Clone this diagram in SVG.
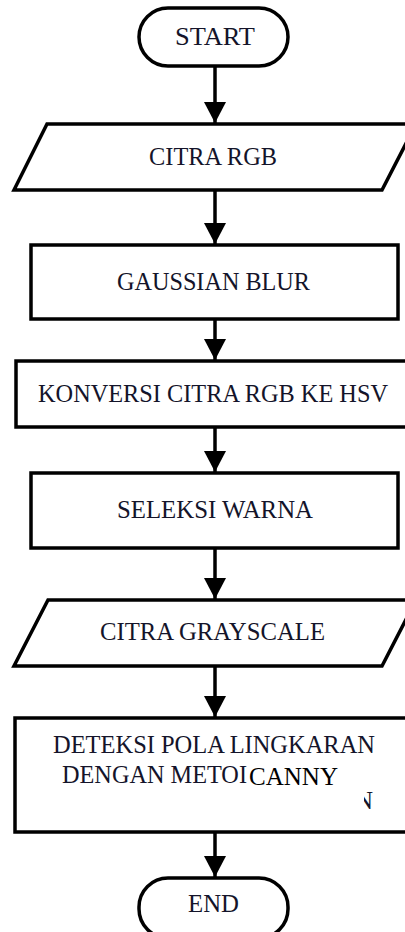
<svg xmlns="http://www.w3.org/2000/svg" width="405" height="932" viewBox="0 0 405 932">
  <style>
    .shape { fill: #ffffff; stroke: #000000; stroke-width: 3.5; }
    .lbl { font-family: "Liberation Serif", "Times New Roman", serif; font-size: 25px; fill: #14142a; }
    .conn { stroke: #000000; stroke-width: 3.5; fill: none; }
  </style>
  <defs>
    <marker id="arrow" markerUnits="userSpaceOnUse" markerWidth="24" markerHeight="22" refX="21" refY="11" orient="auto" viewBox="0 0 22 22">
      <path d="M0,0 L21,11 L0,22 Z" fill="#000000"/>
    </marker>
  </defs>
  <rect width="405" height="932" fill="#ffffff"/>

  <g id="start">
    <rect class="shape" x="139" y="8" width="149" height="58" rx="29" ry="29"/>
    <text class="lbl" x="175" y="45" textLength="80" lengthAdjust="spacingAndGlyphs">START</text>
  </g>

  <g id="citra-rgb">
    <polygon class="shape" points="47,124 416,124 382,190 14,190"/>
    <text class="lbl" x="149" y="165" textLength="128" lengthAdjust="spacingAndGlyphs">CITRA RGB</text>
  </g>

  <g id="gaussian-blur">
    <rect class="shape" x="31" y="245" width="367" height="74"/>
    <text class="lbl" x="117" y="290" textLength="193" lengthAdjust="spacingAndGlyphs">GAUSSIAN BLUR</text>
  </g>

  <g id="konversi">
    <rect class="shape" x="16" y="361" width="400" height="66"/>
    <text class="lbl" x="38" y="402" font-size="24" textLength="350" lengthAdjust="spacingAndGlyphs">KONVERSI CITRA RGB KE HSV</text>
  </g>

  <g id="seleksi-warna">
    <rect class="shape" x="31" y="473" width="367" height="75"/>
    <text class="lbl" x="117" y="518" textLength="196" lengthAdjust="spacingAndGlyphs">SELEKSI WARNA</text>
  </g>

  <g id="citra-grayscale">
    <polygon class="shape" points="48,600 416,600 382,666 14,666"/>
    <text class="lbl" x="100" y="640" textLength="225" lengthAdjust="spacingAndGlyphs">CITRA GRAYSCALE</text>
  </g>

  <g id="deteksi">
    <rect class="shape" x="15" y="718" width="400" height="114"/>
    <text class="lbl" x="53" y="753" font-size="24" textLength="322" lengthAdjust="spacingAndGlyphs">DETEKSI POLA LINGKARAN</text>
    <text class="lbl" x="62" y="783" font-size="24" textLength="185" lengthAdjust="spacingAndGlyphs">DENGAN METOI</text>
    <text class="lbl" x="355" y="809">N</text>
    <rect x="248" y="760" width="116" height="26" fill="#ffffff"/>
    <rect x="17.5" y="785" width="346.5" height="44" fill="#ffffff"/>
    <text x="249" y="785" font-family="Liberation Serif, Times New Roman, serif" font-size="26" fill="#000000" textLength="89" lengthAdjust="spacingAndGlyphs">CANNY</text>
  </g>

  <g id="end">
    <rect class="shape" x="139" y="878" width="149" height="60" rx="29" ry="29"/>
    <text class="lbl" x="188" y="912" textLength="51" lengthAdjust="spacingAndGlyphs">END</text>
  </g>

  <g id="connectors">
    <line class="conn" x1="215" y1="66" x2="215" y2="123" marker-end="url(#arrow)"/>
    <line class="conn" x1="215" y1="190" x2="215" y2="244" marker-end="url(#arrow)"/>
    <line class="conn" x1="215" y1="319" x2="215" y2="360" marker-end="url(#arrow)"/>
    <line class="conn" x1="215" y1="427" x2="215" y2="472" marker-end="url(#arrow)"/>
    <line class="conn" x1="215" y1="548" x2="215" y2="599" marker-end="url(#arrow)"/>
    <line class="conn" x1="215" y1="666" x2="215" y2="717" marker-end="url(#arrow)"/>
    <line class="conn" x1="215" y1="832" x2="215" y2="877" marker-end="url(#arrow)"/>
  </g>
</svg>
